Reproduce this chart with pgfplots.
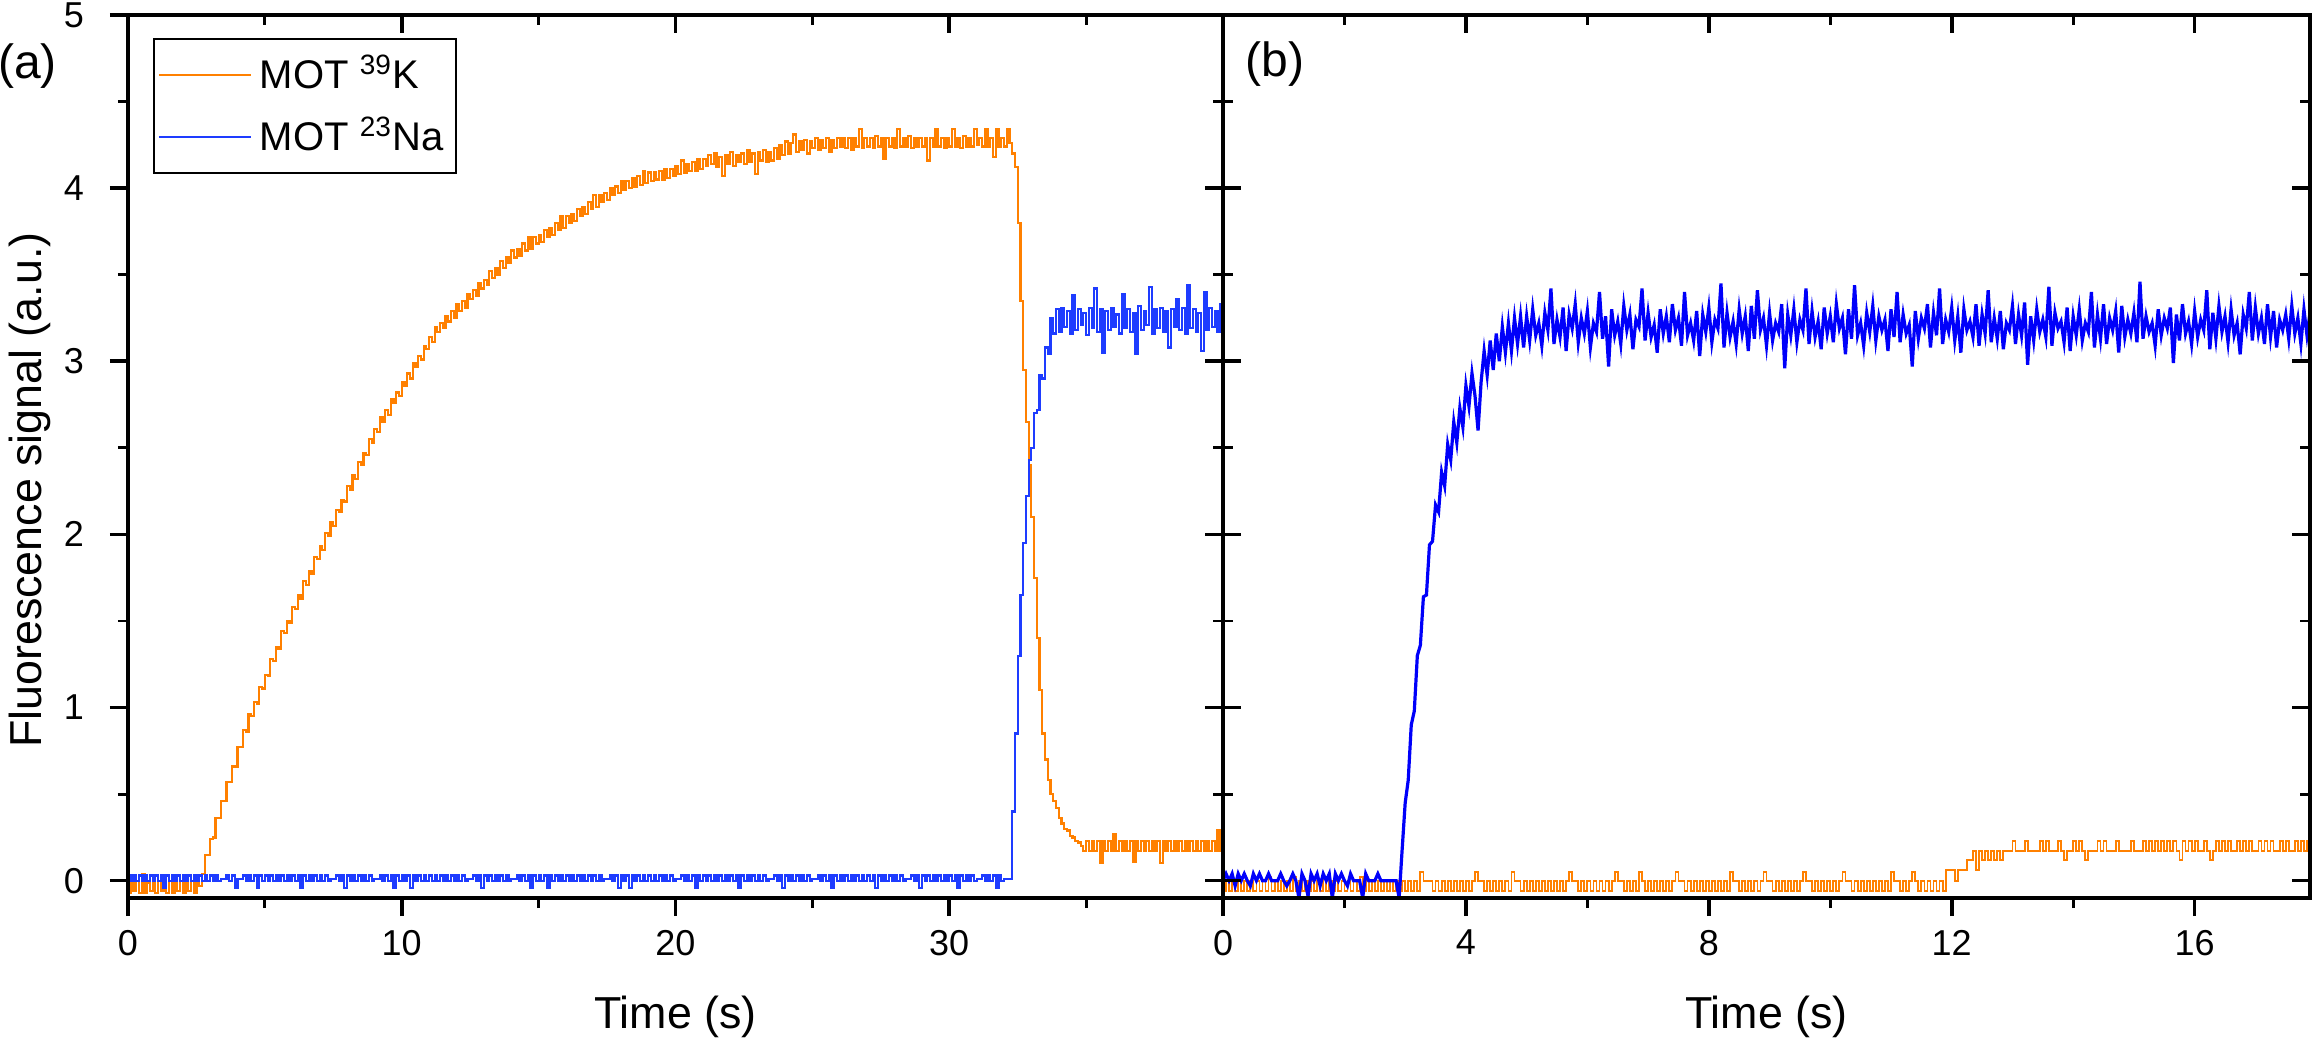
\documentclass[border=0pt]{standalone}
\usepackage{fontspec}
\setmainfont{Liberation Sans}
\usepackage{pgfplots}
\usepackage{pgfplotstable}
\pgfplotsset{compat=1.18}

\definecolor{korange}{RGB}{255,128,0}
\definecolor{nablueA}{RGB}{30,60,255}
\definecolor{nablueB}{RGB}{0,0,250}

% (a) 39K fluorescence, sampled every 0.1 s from 0 to 40 s
\pgfplotstableread[header=false,row sep=\\]{
-0.07\\0.00\\-0.06\\0.00\\-0.07\\0.04\\-0.07\\-0.01\\-0.06\\0.00\\
-0.07\\0.00\\-0.06\\0.03\\-0.07\\0.00\\-0.07\\-0.01\\-0.06\\0.00\\
-0.07\\0.00\\-0.06\\0.00\\-0.07\\-0.01\\-0.03\\0.04\\0.15\\0.15\\
0.24\\0.25\\0.36\\0.36\\0.46\\0.46\\0.57\\0.57\\0.66\\0.66\\
0.77\\0.77\\0.87\\0.86\\0.96\\0.95\\1.03\\1.02\\1.12\\1.11\\
1.19\\1.18\\1.28\\1.27\\1.35\\1.34\\1.44\\1.43\\1.50\\1.49\\
1.58\\1.57\\1.65\\1.63\\1.73\\1.71\\1.79\\1.77\\1.87\\1.86\\
1.93\\1.91\\2.01\\1.99\\2.07\\2.05\\2.14\\2.13\\2.20\\2.19\\
2.28\\2.26\\2.34\\2.32\\2.42\\2.40\\2.47\\2.46\\2.55\\2.53\\
2.61\\2.59\\2.68\\2.65\\2.72\\2.69\\2.78\\2.76\\2.82\\2.80\\
2.88\\2.86\\2.93\\2.90\\2.99\\2.97\\3.03\\3.01\\3.09\\3.07\\
3.14\\3.11\\3.20\\3.17\\3.22\\3.19\\3.26\\3.23\\3.29\\3.25\\
3.33\\3.29\\3.35\\3.31\\3.39\\3.36\\3.41\\3.38\\3.45\\3.42\\
3.47\\3.44\\3.52\\3.48\\3.54\\3.50\\3.58\\3.54\\3.60\\3.57\\
3.64\\3.60\\3.65\\3.61\\3.68\\3.64\\3.72\\3.65\\3.72\\3.68\\
3.73\\3.69\\3.76\\3.72\\3.77\\3.73\\3.80\\3.76\\3.84\\3.77\\
3.84\\3.80\\3.85\\3.81\\3.88\\3.84\\3.89\\3.85\\3.92\\3.88\\
3.96\\3.89\\3.96\\3.92\\3.97\\3.93\\4.00\\3.96\\4.01\\3.97\\
4.04\\3.99\\4.04\\4.00\\4.06\\4.01\\4.07\\4.02\\4.10\\4.03\\
4.09\\4.04\\4.09\\4.05\\4.10\\4.05\\4.11\\4.06\\4.11\\4.07\\
4.13\\4.08\\4.16\\4.09\\4.14\\4.10\\4.15\\4.10\\4.17\\4.11\\
4.17\\4.13\\4.19\\4.14\\4.20\\4.12\\4.18\\4.07\\4.19\\4.14\\
4.21\\4.13\\4.19\\4.15\\4.20\\4.14\\4.22\\4.15\\4.20\\4.08\\
4.21\\4.16\\4.22\\4.15\\4.21\\4.16\\4.23\\4.17\\4.25\\4.19\\
4.27\\4.20\\4.26\\4.31\\4.21\\4.27\\4.22\\4.28\\4.20\\4.27\\
4.23\\4.29\\4.22\\4.28\\4.23\\4.29\\4.21\\4.28\\4.23\\4.29\\
4.24\\4.29\\4.23\\4.29\\4.22\\4.29\\4.24\\4.34\\4.23\\4.29\\
4.24\\4.29\\4.23\\4.30\\4.24\\4.29\\4.17\\4.29\\4.24\\4.29\\
4.23\\4.34\\4.24\\4.29\\4.24\\4.30\\4.23\\4.29\\4.24\\4.29\\
4.24\\4.29\\4.16\\4.29\\4.24\\4.34\\4.24\\4.29\\4.23\\4.29\\
4.24\\4.34\\4.24\\4.29\\4.23\\4.30\\4.24\\4.29\\4.24\\4.34\\
4.25\\4.29\\4.24\\4.34\\4.24\\4.29\\4.18\\4.34\\4.24\\4.29\\
4.24\\4.34\\4.26\\4.20\\4.12\\3.80\\3.35\\2.95\\2.65\\2.40\\
2.10\\1.75\\1.40\\1.10\\0.85\\0.70\\0.58\\0.50\\0.46\\0.42\\
0.36\\0.33\\0.30\\0.29\\0.26\\0.25\\0.23\\0.22\\0.20\\0.17\\
0.23\\0.17\\0.23\\0.17\\0.23\\0.10\\0.23\\0.17\\0.23\\0.17\\
0.27\\0.17\\0.23\\0.17\\0.23\\0.17\\0.23\\0.11\\0.23\\0.17\\
0.23\\0.17\\0.23\\0.17\\0.23\\0.17\\0.23\\0.10\\0.23\\0.17\\
0.23\\0.17\\0.23\\0.17\\0.23\\0.17\\0.23\\0.17\\0.23\\0.17\\
0.23\\0.17\\0.23\\0.17\\0.23\\0.17\\0.23\\0.17\\0.29\\0.17\\
0.23\\
}\Ka

% (a) 23Na fluorescence, sampled every 0.1 s from 0 to 40 s
\pgfplotstableread[header=false,row sep=\\]{
0.03\\0.00\\0.03\\0.00\\0.03\\0.00\\0.03\\0.00\\0.03\\0.00\\
0.03\\0.00\\0.03\\-0.04\\0.03\\0.00\\0.03\\0.00\\0.03\\0.00\\
0.03\\0.00\\0.03\\0.00\\0.03\\0.00\\0.03\\0.00\\0.03\\0.00\\
0.03\\0.00\\0.03\\0.00\\0.01\\0.01\\0.03\\0.00\\0.03\\-0.04\\
0.01\\0.01\\0.03\\0.00\\0.03\\0.00\\0.03\\-0.04\\0.03\\0.00\\
0.03\\0.00\\0.03\\0.00\\0.03\\0.00\\0.03\\0.00\\0.03\\0.00\\
0.03\\0.00\\0.03\\-0.04\\0.03\\0.00\\0.03\\0.00\\0.03\\0.00\\
0.03\\0.00\\0.03\\0.00\\0.01\\0.01\\0.03\\0.00\\0.03\\-0.04\\
0.03\\0.00\\0.03\\0.00\\0.03\\0.00\\0.03\\0.00\\0.03\\0.00\\
0.01\\0.01\\0.03\\0.00\\0.03\\0.00\\0.03\\-0.04\\0.03\\0.00\\
0.03\\0.00\\0.03\\-0.04\\0.03\\0.00\\0.03\\0.00\\0.03\\0.00\\
0.03\\0.00\\0.03\\0.00\\0.03\\0.00\\0.03\\0.00\\0.03\\0.00\\
0.03\\0.00\\0.03\\0.00\\0.01\\0.01\\0.03\\0.00\\0.03\\-0.04\\
0.03\\0.00\\0.03\\0.00\\0.03\\0.00\\0.03\\0.00\\0.03\\0.00\\
0.01\\0.01\\0.03\\0.00\\0.03\\0.00\\0.03\\-0.04\\0.03\\0.00\\
0.03\\0.00\\0.03\\-0.04\\0.03\\0.00\\0.03\\0.00\\0.03\\0.00\\
0.03\\0.00\\0.03\\0.00\\0.03\\0.00\\0.03\\0.00\\0.03\\0.00\\
0.03\\0.00\\0.03\\0.00\\0.01\\0.01\\0.03\\0.00\\0.03\\-0.04\\
0.03\\0.00\\0.03\\-0.04\\0.03\\0.00\\0.03\\0.00\\0.03\\0.00\\
0.03\\0.00\\0.03\\0.00\\0.03\\0.00\\0.03\\0.00\\0.03\\0.00\\
0.01\\0.01\\0.03\\0.00\\0.03\\0.00\\0.03\\-0.04\\0.03\\0.00\\
0.03\\0.00\\0.03\\0.00\\0.03\\0.00\\0.03\\0.00\\0.03\\0.00\\
0.03\\0.00\\0.03\\-0.04\\0.03\\0.00\\0.03\\0.00\\0.03\\0.00\\
0.03\\0.00\\0.03\\0.00\\0.01\\0.01\\0.03\\0.00\\0.03\\-0.04\\
0.03\\0.00\\0.03\\0.00\\0.03\\0.00\\0.03\\0.00\\0.03\\0.00\\
0.01\\0.01\\0.03\\0.00\\0.03\\0.00\\0.03\\-0.04\\0.03\\0.00\\
0.03\\0.00\\0.03\\0.00\\0.03\\0.00\\0.03\\0.00\\0.03\\0.00\\
0.03\\0.00\\0.03\\-0.04\\0.03\\0.00\\0.03\\0.00\\0.03\\0.00\\
0.03\\0.00\\0.03\\0.00\\0.01\\0.01\\0.03\\0.00\\0.03\\-0.04\\
0.03\\0.00\\0.03\\0.00\\0.03\\0.00\\0.03\\0.00\\0.03\\0.00\\
0.03\\0.00\\0.03\\-0.04\\0.03\\0.00\\0.03\\0.00\\0.03\\0.00\\
0.01\\0.01\\0.03\\0.00\\0.03\\0.00\\0.03\\-0.04\\0.03\\0.00\\
0.01\\0.01\\0.01\\0.40\\0.85\\1.30\\1.65\\1.95\\2.22\\2.43\\
2.50\\2.70\\2.72\\2.92\\2.90\\3.08\\3.04\\3.25\\3.16\\3.30\\
3.17\\3.31\\3.20\\3.29\\3.16\\3.38\\3.18\\3.30\\3.21\\3.28\\
3.15\\3.31\\3.19\\3.42\\3.17\\3.30\\3.05\\3.29\\3.18\\3.31\\
3.20\\3.27\\3.16\\3.39\\3.19\\3.30\\3.17\\3.28\\3.04\\3.32\\
3.18\\3.29\\3.21\\3.43\\3.16\\3.30\\3.19\\3.31\\3.17\\3.29\\
3.08\\3.30\\3.20\\3.36\\3.18\\3.31\\3.16\\3.44\\3.19\\3.30\\
3.17\\3.28\\3.06\\3.40\\3.18\\3.31\\3.20\\3.29\\3.17\\3.33\\
3.18\\
}\Naa

% (b) 39K fluorescence, sampled every 0.05 s from 0 to 17.9 s
\pgfplotstableread[header=false,row sep=\\]{
-0.06\\0.00\\-0.06\\0.00\\-0.06\\0.02\\-0.06\\0.00\\-0.06\\0.00\\-0.06\\0.00\\-0.06\\0.00\\-0.06\\0.02\\-0.06\\0.00\\-0.06\\0.00\\
-0.06\\0.00\\-0.06\\0.02\\-0.06\\0.00\\-0.06\\0.00\\-0.06\\0.00\\-0.06\\0.00\\-0.06\\0.02\\-0.06\\0.00\\-0.06\\0.00\\-0.06\\0.00\\
-0.06\\0.00\\-0.06\\0.00\\-0.06\\0.02\\-0.06\\0.00\\-0.06\\0.00\\-0.06\\0.00\\-0.06\\0.00\\-0.06\\0.00\\-0.06\\0.00\\-0.06\\0.00\\
-0.06\\0.00\\-0.06\\0.00\\-0.06\\0.05\\0.00\\0.00\\0.00\\-0.06\\0.00\\-0.06\\0.00\\-0.06\\0.00\\-0.06\\0.00\\-0.06\\0.00\\-0.06\\
0.00\\-0.06\\0.00\\0.05\\0.00\\0.00\\-0.06\\0.00\\-0.06\\0.00\\-0.06\\0.00\\-0.06\\0.00\\-0.06\\0.05\\0.00\\0.00\\-0.06\\0.00\\
-0.06\\0.00\\-0.06\\0.00\\-0.06\\0.00\\-0.06\\0.00\\-0.06\\0.00\\-0.06\\0.00\\-0.06\\0.00\\0.05\\0.00\\0.00\\-0.06\\0.00\\-0.06\\
0.00\\-0.06\\0.00\\-0.06\\0.00\\-0.06\\0.00\\-0.06\\0.00\\0.05\\0.00\\0.00\\-0.06\\0.00\\-0.06\\0.00\\-0.06\\0.05\\0.00\\-0.06\\
0.00\\-0.06\\0.00\\-0.06\\0.00\\-0.06\\0.00\\-0.06\\0.00\\0.05\\0.00\\0.00\\-0.06\\0.00\\-0.06\\0.00\\-0.06\\0.00\\-0.06\\0.00\\
-0.06\\0.00\\-0.06\\0.00\\-0.06\\0.00\\-0.06\\0.05\\0.00\\0.00\\-0.06\\0.00\\-0.06\\0.00\\-0.06\\0.00\\-0.06\\0.00\\0.05\\0.00\\
0.00\\-0.06\\0.00\\-0.06\\0.00\\-0.06\\0.00\\-0.06\\0.00\\-0.06\\0.00\\0.05\\0.00\\0.00\\-0.06\\0.00\\-0.06\\0.00\\-0.06\\0.00\\
-0.06\\0.00\\-0.06\\0.00\\0.05\\0.00\\0.00\\-0.06\\0.00\\-0.06\\0.00\\-0.06\\0.00\\-0.06\\0.00\\-0.06\\0.00\\-0.06\\0.00\\-0.06\\
0.05\\0.00\\0.00\\-0.06\\0.00\\-0.06\\0.00\\0.05\\0.00\\-0.06\\0.00\\-0.06\\0.00\\-0.06\\0.00\\-0.06\\0.00\\-0.06\\0.06\\0.06\\
0.06\\0.00\\0.06\\0.06\\0.06\\0.12\\0.12\\0.17\\0.06\\0.17\\
0.12\\0.17\\0.12\\0.17\\0.12\\0.17\\0.12\\0.17\\
0.17\\0.17\\0.23\\0.17\\0.17\\0.17\\0.23\\0.17\\0.17\\0.17\\
0.17\\0.23\\0.17\\0.23\\0.17\\0.17\\0.17\\0.23\\0.17\\0.12\\
0.17\\0.17\\0.23\\0.17\\0.23\\0.17\\0.12\\0.17\\0.17\\0.17\\
0.23\\0.17\\0.23\\0.17\\0.17\\0.17\\0.23\\0.17\\0.17\\0.17\\
0.17\\0.23\\0.17\\0.17\\0.17\\0.23\\0.17\\0.23\\0.17\\0.23\\
0.17\\0.23\\0.17\\0.23\\0.17\\0.23\\0.17\\0.12\\0.23\\0.17\\
0.23\\0.17\\0.23\\0.17\\0.17\\0.23\\0.17\\0.12\\0.17\\0.23\\
0.17\\0.23\\0.17\\0.23\\0.17\\0.17\\0.23\\0.17\\0.23\\0.17\\
0.23\\0.17\\0.17\\0.23\\0.17\\0.23\\0.17\\0.23\\0.17\\0.17\\
0.23\\0.17\\0.23\\0.17\\0.17\\0.23\\0.17\\0.23\\0.17\\0.23\\
0.17\\
}\Kb

% (b) 23Na fluorescence, sampled every 0.05 s from 0 to 17.9 s
\pgfplotstableread[header=false,row sep=\\]{
0.00\\0.04\\0.00\\0.04\\-0.03\\0.04\\0.00\\0.04\\0.00\\-0.03\\
0.04\\0.00\\0.04\\0.00\\0.00\\0.04\\0.00\\0.00\\0.00\\0.04\\
0.00\\-0.03\\0.00\\0.04\\0.00\\-0.10\\0.04\\0.00\\-0.09\\0.04\\
0.00\\0.04\\-0.03\\0.04\\0.00\\0.04\\-0.10\\0.04\\0.00\\0.04\\
0.00\\-0.03\\0.04\\0.00\\0.00\\0.00\\-0.10\\0.04\\0.00\\0.00\\
0.00\\0.04\\0.00\\0.00\\0.00\\0.00\\0.00\\0.00\\-0.10\\
0.18\\0.45\\0.58\\0.90\\0.98\\1.30\\1.36\\1.64\\1.65\\1.94\\
1.96\\2.17\\2.13\\2.36\\2.28\\2.52\\2.43\\2.65\\2.53\\2.73\\
2.62\\2.86\\2.74\\2.93\\2.80\\2.60\\2.88\\3.06\\2.92\\3.12\\
2.95\\3.16\\3.00\\3.20\\3.05\\3.22\\3.06\\3.25\\3.10\\3.26\\
3.08\\
3.26\\3.12\\3.30\\3.15\\3.22\\3.09\\3.28\\3.18\\3.42\\3.10\\
3.24\\3.14\\3.31\\3.06\\3.27\\3.19\\3.33\\3.11\\3.25\\3.16\\
3.29\\3.08\\3.22\\3.17\\3.40\\3.13\\3.26\\2.97\\3.30\\3.15\\
3.23\\3.10\\3.32\\3.18\\3.27\\3.07\\3.24\\3.20\\3.42\\3.12\\
3.28\\3.14\\3.21\\3.05\\3.30\\3.16\\3.26\\3.11\\3.33\\3.18\\
3.25\\3.09\\3.40\\3.15\\3.22\\3.12\\3.29\\3.03\\3.27\\3.17\\
3.31\\3.11\\3.24\\3.19\\3.45\\3.08\\3.28\\3.14\\3.23\\3.10\\
3.30\\3.16\\3.26\\3.06\\3.32\\3.13\\3.41\\3.18\\3.25\\3.09\\
3.28\\3.12\\3.22\\3.17\\3.33\\2.96\\3.27\\3.15\\3.30\\3.11\\
3.24\\3.18\\3.42\\3.10\\3.29\\3.14\\3.23\\3.07\\3.31\\3.16\\
3.26\\3.11\\3.33\\3.19\\3.25\\3.04\\3.30\\3.13\\3.44\\3.15\\
3.22\\3.09\\3.28\\3.17\\3.32\\3.12\\3.26\\3.18\\3.24\\3.06\\
3.30\\3.14\\3.40\\3.11\\3.27\\3.16\\3.21\\2.97\\3.29\\3.13\\
3.25\\3.19\\3.33\\3.08\\3.28\\3.15\\3.42\\3.10\\3.24\\3.17\\
3.31\\3.12\\3.26\\3.05\\3.30\\3.18\\3.23\\3.14\\3.33\\3.09\\
3.27\\3.16\\3.41\\3.11\\3.25\\3.13\\3.29\\3.07\\3.22\\3.18\\
3.32\\3.10\\3.27\\3.15\\3.34\\2.98\\3.26\\3.12\\3.30\\3.17\\
3.24\\3.14\\3.43\\3.09\\3.28\\3.19\\3.23\\3.11\\3.31\\3.06\\
3.26\\3.15\\3.30\\3.12\\3.22\\3.17\\3.40\\3.08\\3.27\\3.13\\
3.33\\3.10\\3.25\\3.18\\3.29\\3.05\\3.32\\3.14\\3.24\\3.16\\
3.28\\3.11\\3.46\\3.13\\3.26\\3.17\\3.22\\3.09\\3.30\\3.15\\
3.25\\3.19\\3.31\\2.99\\3.27\\3.12\\3.33\\3.16\\3.23\\3.10\\
3.29\\3.14\\3.24\\3.18\\3.41\\3.07\\3.28\\3.13\\3.32\\3.17\\
3.26\\3.11\\3.30\\3.15\\3.22\\3.04\\3.27\\3.19\\3.40\\3.12\\
3.31\\3.16\\3.25\\3.10\\3.33\\3.14\\3.29\\3.08\\3.24\\3.18\\
3.27\\3.13\\3.32\\3.16\\3.25\\3.10\\3.30\\3.15\\3.28\\
}\Nab

\pgfplotsset{
  motframe/.style={
    scale only axis,
    height=220.75pt,
    ymin=-0.1, ymax=5,
    axis line style={line width=0.9pt, black},
    major tick length=4.5pt,
    minor tick length=2.5pt,
    major tick style={line width=0.9pt, black},
    minor tick style={line width=0.7pt, black},
    tick label style={font=\fontsize{9}{10}\selectfont},
    yticklabel style={xshift=-3pt},
    /pgf/number format/assume math mode=true,
    label style={font=\fontsize{11.2}{13}\selectfont},
    clip=true,
  },
  frameA/.style={
    motframe, at={(32pt,35.5pt)}, anchor=south west, width=273.75pt,
    xmin=0, xmax=40,
    xtick={0,10,20,30}, minor xtick={5,15,25,35},
    ytick={0,1,2,3,4,5}, minor ytick={0.5,1.5,2.5,3.5,4.5},
  },
  frameB/.style={
    motframe, at={(305.75pt,35.5pt)}, anchor=south west, width=271.75pt,
    xmin=0, xmax=17.9,
    xtick={0,4,8,12,16}, minor xtick={2,6,10,14},
    ytick={0,1,2,3,4,5}, minor ytick={0.5,1.5,2.5,3.5,4.5},
  },
}

\begin{document}
\begin{tikzpicture}
% panel (a): data with outward ticks on bottom and left
\begin{axis}[frameA,
  tick align=outside, xtick pos=left, ytick pos=left,
  xlabel={Time (s)}, ylabel={Fluorescence signal (a.u.)},
  xlabel style={at={(axis description cs:0.5,-0.1348)}, anchor=center},
  ylabel style={at={(axis description cs:-0.0895,0.462)}, anchor=center},
  legend style={at={(axis description cs:0,1)}, anchor=north west,
    xshift=6.25pt, yshift=-5.75pt, draw=black, line width=0.4pt,
    font=\fontsize{10}{12}\selectfont, inner xsep=1pt, inner ysep=2pt,
    row sep=1.5pt, cells={anchor=west}},
  legend image code/.code={\draw[#1, line width=0.5pt] (0pt,0pt) -- (23pt,0pt);},
]
\addplot[const plot, korange, line width=0.55pt] table[x expr=\coordindex*0.1, y index=0] {\Ka};
\addlegendentry{MOT \textsuperscript{39}K}
\addplot[const plot, nablueA, line width=0.55pt] table[x expr=\coordindex*0.1, y index=0] {\Naa};
\addlegendentry{MOT \textsuperscript{23}Na}
\end{axis}
% panel (a): inward ticks on top and right
\begin{axis}[frameA, tick align=inside, xtick pos=right, ytick pos=right,
  xticklabels={}, yticklabels={}]
\end{axis}

% panel (b): data with outward ticks on bottom
\begin{axis}[frameB,
  tick align=outside, xtick pos=left, ytick=\empty, minor ytick=\empty,
  xlabel={Time (s)},
  xlabel style={at={(axis description cs:0.5,-0.1348)}, anchor=center},
]
\addplot[const plot, korange, line width=0.45pt] table[x expr=\coordindex*0.05, y index=0] {\Kb};
\addplot[nablueB, line width=0.8pt] table[x expr=\coordindex*0.05, y index=0] {\Nab};
\end{axis}
% panel (b): inward ticks on top, left and right
\begin{axis}[frameB, tick align=inside, xtick pos=right, ytick pos=both,
  xticklabels={}, yticklabels={}]
\end{axis}

\node[font=\fontsize{12}{14}\selectfont] at (6.9pt,243.4pt) {(a)};
\node[font=\fontsize{12}{14}\selectfont] at (318.75pt,244pt) {(b)};

\pgfresetboundingbox
\path[use as bounding box] (0,0) rectangle (578.25pt,260pt);
\end{tikzpicture}
\end{document}
